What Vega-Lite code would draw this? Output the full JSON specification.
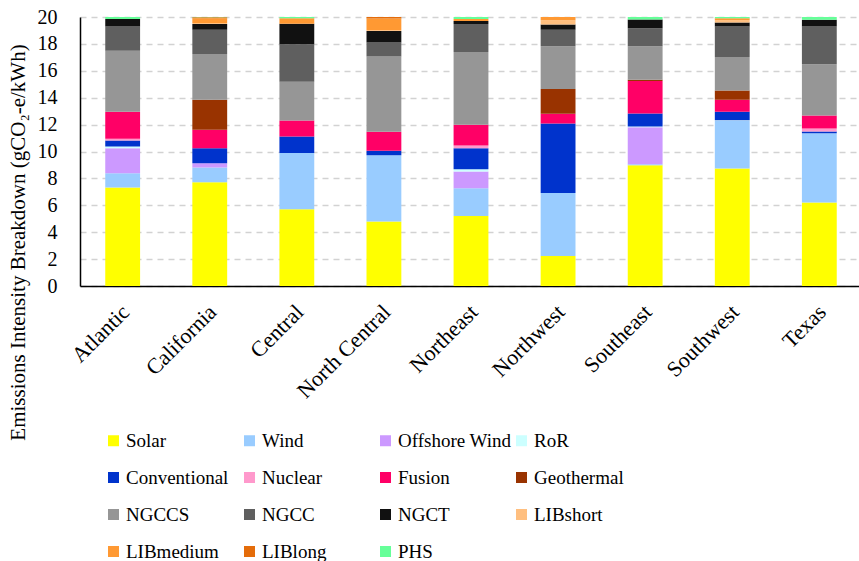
{
  "$schema": "https://vega.github.io/schema/vega-lite/v6.json",
  "autosize": "none",
  "padding": {"left": 80, "top": 17, "right": 0, "bottom": 275},
  "width": 782,
  "height": 269,
  "background": "white",
  "config": {
    "font": "Liberation Serif",
    "view": {"stroke": null}
  },
  "data": {
    "values": [
      {"region": "Atlantic", "tech": "Solar", "value": 7.32},
      {"region": "Atlantic", "tech": "Wind", "value": 1.07},
      {"region": "Atlantic", "tech": "Offshore Wind", "value": 1.86},
      {"region": "Atlantic", "tech": "RoR", "value": 0.12},
      {"region": "Atlantic", "tech": "Conventional", "value": 0.45},
      {"region": "Atlantic", "tech": "Nuclear", "value": 0.12},
      {"region": "Atlantic", "tech": "Fusion", "value": 2.01},
      {"region": "Atlantic", "tech": "NGCCS", "value": 4.54},
      {"region": "Atlantic", "tech": "NGCC", "value": 1.81},
      {"region": "Atlantic", "tech": "NGCT", "value": 0.55},
      {"region": "Atlantic", "tech": "PHS", "value": 0.15},
      {"region": "California", "tech": "Solar", "value": 7.72},
      {"region": "California", "tech": "Wind", "value": 1.09},
      {"region": "California", "tech": "Offshore Wind", "value": 0.32},
      {"region": "California", "tech": "Conventional", "value": 1.12},
      {"region": "California", "tech": "Fusion", "value": 1.36},
      {"region": "California", "tech": "Geothermal", "value": 2.24},
      {"region": "California", "tech": "NGCCS", "value": 3.4},
      {"region": "California", "tech": "NGCC", "value": 1.81},
      {"region": "California", "tech": "NGCT", "value": 0.42},
      {"region": "California", "tech": "LIBshort", "value": 0.07},
      {"region": "California", "tech": "LIBmedium", "value": 0.35},
      {"region": "California", "tech": "LIBlong", "value": 0.08},
      {"region": "California", "tech": "PHS", "value": 0.02},
      {"region": "Central", "tech": "Solar", "value": 5.71},
      {"region": "Central", "tech": "Wind", "value": 4.17},
      {"region": "Central", "tech": "Conventional", "value": 1.24},
      {"region": "Central", "tech": "Fusion", "value": 1.19},
      {"region": "Central", "tech": "NGCCS", "value": 2.88},
      {"region": "Central", "tech": "NGCC", "value": 2.78},
      {"region": "Central", "tech": "NGCT", "value": 1.53},
      {"region": "Central", "tech": "LIBmedium", "value": 0.4},
      {"region": "Central", "tech": "PHS", "value": 0.1},
      {"region": "North Central", "tech": "Solar", "value": 4.79},
      {"region": "North Central", "tech": "Wind", "value": 4.94},
      {"region": "North Central", "tech": "Conventional", "value": 0.32},
      {"region": "North Central", "tech": "Fusion", "value": 1.41},
      {"region": "North Central", "tech": "NGCCS", "value": 5.61},
      {"region": "North Central", "tech": "NGCC", "value": 1.04},
      {"region": "North Central", "tech": "NGCT", "value": 0.85},
      {"region": "North Central", "tech": "LIBshort", "value": 0.05},
      {"region": "North Central", "tech": "LIBmedium", "value": 0.87},
      {"region": "North Central", "tech": "LIBlong", "value": 0.12},
      {"region": "Northeast", "tech": "Solar", "value": 5.21},
      {"region": "Northeast", "tech": "Wind", "value": 2.06},
      {"region": "Northeast", "tech": "Offshore Wind", "value": 1.24},
      {"region": "Northeast", "tech": "RoR", "value": 0.17},
      {"region": "Northeast", "tech": "Conventional", "value": 1.57},
      {"region": "Northeast", "tech": "Nuclear", "value": 0.2},
      {"region": "Northeast", "tech": "Fusion", "value": 1.54},
      {"region": "Northeast", "tech": "NGCCS", "value": 5.4},
      {"region": "Northeast", "tech": "NGCC", "value": 2.09},
      {"region": "Northeast", "tech": "NGCT", "value": 0.22},
      {"region": "Northeast", "tech": "LIBmedium", "value": 0.15},
      {"region": "Northeast", "tech": "PHS", "value": 0.15},
      {"region": "Northwest", "tech": "Solar", "value": 2.23},
      {"region": "Northwest", "tech": "Wind", "value": 4.69},
      {"region": "Northwest", "tech": "Conventional", "value": 5.16},
      {"region": "Northwest", "tech": "Fusion", "value": 0.72},
      {"region": "Northwest", "tech": "Geothermal", "value": 1.84},
      {"region": "Northwest", "tech": "NGCCS", "value": 3.18},
      {"region": "Northwest", "tech": "NGCC", "value": 1.24},
      {"region": "Northwest", "tech": "NGCT", "value": 0.39},
      {"region": "Northwest", "tech": "LIBshort", "value": 0.3},
      {"region": "Northwest", "tech": "LIBmedium", "value": 0.25},
      {"region": "Southeast", "tech": "Solar", "value": 8.98},
      {"region": "Southeast", "tech": "Wind", "value": 0.07},
      {"region": "Southeast", "tech": "Offshore Wind", "value": 2.76},
      {"region": "Southeast", "tech": "RoR", "value": 0.05},
      {"region": "Southeast", "tech": "Conventional", "value": 0.97},
      {"region": "Southeast", "tech": "Fusion", "value": 2.41},
      {"region": "Southeast", "tech": "Geothermal", "value": 0.1},
      {"region": "Southeast", "tech": "NGCCS", "value": 2.49},
      {"region": "Southeast", "tech": "NGCC", "value": 1.34},
      {"region": "Southeast", "tech": "NGCT", "value": 0.64},
      {"region": "Southeast", "tech": "PHS", "value": 0.19},
      {"region": "Southwest", "tech": "Solar", "value": 8.73},
      {"region": "Southwest", "tech": "Wind", "value": 3.55},
      {"region": "Southwest", "tech": "RoR", "value": 0.05},
      {"region": "Southwest", "tech": "Conventional", "value": 0.62},
      {"region": "Southwest", "tech": "Fusion", "value": 0.9},
      {"region": "Southwest", "tech": "Geothermal", "value": 0.69},
      {"region": "Southwest", "tech": "NGCCS", "value": 2.48},
      {"region": "Southwest", "tech": "NGCC", "value": 2.28},
      {"region": "Southwest", "tech": "NGCT", "value": 0.3},
      {"region": "Southwest", "tech": "LIBshort", "value": 0.15},
      {"region": "Southwest", "tech": "LIBmedium", "value": 0.15},
      {"region": "Southwest", "tech": "PHS", "value": 0.1},
      {"region": "Texas", "tech": "Solar", "value": 6.2},
      {"region": "Texas", "tech": "Wind", "value": 5.16},
      {"region": "Texas", "tech": "Conventional", "value": 0.13},
      {"region": "Texas", "tech": "Nuclear", "value": 0.22},
      {"region": "Texas", "tech": "Fusion", "value": 0.97},
      {"region": "Texas", "tech": "NGCCS", "value": 3.8},
      {"region": "Texas", "tech": "NGCC", "value": 2.82},
      {"region": "Texas", "tech": "NGCT", "value": 0.5},
      {"region": "Texas", "tech": "PHS", "value": 0.2}
    ]
  },
  "transform": [
    {"calculate": "indexof(['Solar','Wind','Offshore Wind','RoR','Conventional','Nuclear','Fusion','Geothermal','NGCCS','NGCC','NGCT','LIBshort','LIBmedium','LIBlong','PHS'], datum.tech)", "as": "techOrder"}
  ],
  "mark": {"type": "bar"},
  "encoding": {
    "x": {
      "field": "region",
      "type": "nominal",
      "sort": null,
      "scale": {"paddingInner": 0.6, "paddingOuter": 0.29},
      "axis": {
        "title": null,
        "labelAngle": -45,
        "labelFontSize": 22,
        "labelColor": "black",
        "labelFont": "Liberation Serif",
        "ticks": false,
        "labelPadding": 15,
        "labelOffset": -4,
        "domainColor": "black",
        "domainWidth": 1.5
      }
    },
    "y": {
      "field": "value",
      "type": "quantitative",
      "aggregate": "sum",
      "stack": "zero",
      "scale": {"domain": [0, 20], "nice": false},
      "axis": {
        "values": [0, 2, 4, 6, 8, 10, 12, 14, 16, 18, 20],
        "title": "Emissions Intensity Breakdown (gCO₂-e/kWh)",
        "titleFont": "Liberation Serif",
        "titleFontSize": 21,
        "titleFontWeight": "normal",
        "titleColor": "black",
        "titleX": -62,
        "titleY": 225,
        "titleBaseline": "middle",
        "labelFontSize": 20,
        "labelColor": "black",
        "labelFont": "Liberation Serif",
        "labelPadding": 23,
        "ticks": false,
        "domainColor": "black",
        "domainWidth": 1.5,
        "grid": true,
        "gridColor": "#d2d2d2",
        "gridDash": [6, 5],
        "gridWidth": 1.3
      }
    },
    "color": {
      "field": "tech",
      "type": "nominal",
      "scale": {
        "domain": ["Solar", "Wind", "Offshore Wind", "RoR", "Conventional", "Nuclear", "Fusion", "Geothermal", "NGCCS", "NGCC", "NGCT", "LIBshort", "LIBmedium", "LIBlong", "PHS"],
        "range": ["#FFFF00", "#99CCFF", "#CC99FF", "#CCFFFF", "#0033CC", "#FF99CC", "#FF0066", "#993300", "#969696", "#5F5F5F", "#111111", "#FFBF7F", "#FF9933", "#E46C0A", "#66FF99"]
      },
      "legend": {
        "title": null,
        "orient": "none",
        "legendX": 24,
        "legendY": 414,
        "direction": "horizontal",
        "columns": 4,
        "gridAlign": "all",
        "columnPadding": -9,
        "rowPadding": 17,
        "symbolType": "square",
        "symbolSize": 121,
        "symbolStrokeWidth": 0,
        "symbolOpacity": 1,
        "labelFont": "Liberation Serif",
        "labelFontSize": 19,
        "labelColor": "black",
        "labelOffset": 3,
        "labelLimit": 300
      }
    },
    "order": {"field": "techOrder", "type": "quantitative", "aggregate": "min"}
  }
}
